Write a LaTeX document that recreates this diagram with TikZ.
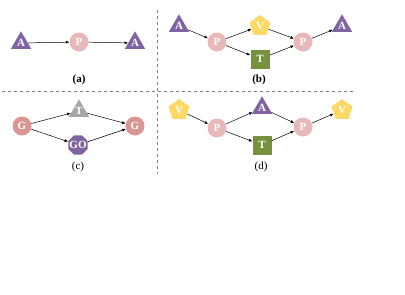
\documentclass[tikz,border=0pt]{standalone}
\usepackage{fontspec}
\setmainfont{Liberation Serif}
\usepackage{tikz}
\usetikzlibrary{arrows.meta, positioning, shapes.geometric}
\definecolor{apurple}{RGB}{128,100,162}
\definecolor{ppink}{RGB}{230,184,183}
\definecolor{vyellow}{RGB}{255,217,102}
\definecolor{tgreen}{RGB}{118,146,60}
\definecolor{gsalmon}{RGB}{217,150,148}
\definecolor{tgrey}{RGB}{166,166,166}
\definecolor{sepline}{RGB}{128,128,128}

\begin{document}
\begin{tikzpicture}[x=1pt, y=-1pt, >={Latex[length=3.5pt,width=3pt]},
  lbl/.style={text=white, font=\bfseries\fontsize{11}{11}\selectfont, inner sep=0pt},
  tri/.style={lbl, regular polygon, regular polygon sides=3, minimum size=23.5pt, fill=apurple},
  pent/.style={lbl, regular polygon, regular polygon sides=5, minimum size=22pt, fill=vyellow},
  octa/.style={lbl, regular polygon, regular polygon sides=8, minimum size=21pt, inner sep=-3pt, fill=apurple},
  circ/.style={lbl, circle, minimum size=19pt, fill=ppink},
  sq/.style={lbl, rectangle, minimum size=19pt, fill=tgreen},
  edge/.style={->, line width=0.5pt},
  capnode/.style={font=\fontsize{11}{11}\selectfont}]
  \useasboundingbox (0,0) rectangle (405,295);
  % Separators
  \draw[sepline, dashed, line width=0.6pt] (157,10) -- (157,174);
  \draw[sepline, dashed, line width=0.6pt] (2,91) -- (354,91);
  % (a)
  \node[tri] (a1) at (21,43) {A};
  \node[circ] (ap) at (79,42) {P};
  \node[tri] (a2) at (135,43) {A};
  \draw[edge] (a1) -- (ap);
  \draw[edge] (ap) -- (a2);
  \node[capnode] (capa) at (79,80) {\textbf{(a)}};
  % (b)
  \node[tri] (b1) at (179,26) {A};
  \node[circ] (bp1) at (217,42) {P};
  \node[pent] (bv) at (260,26) {V};
  \node[sq] (bt) at (260,59) {T};
  \node[circ] (bp2) at (303,42) {P};
  \node[tri] (b2) at (342,26) {A};
  \foreach \s/\t in {b1/bp1, bp1/bv, bp1/bt, bv/bp2, bt/bp2, bp2/b2}
    \draw[edge] (\s) -- (\t);
  \node[capnode] (capb) at (259,80) {\textbf{(b)}};
  % (c)
  \node[circ, fill=gsalmon] (cg1) at (22,126) {G};
  \node[tri, fill=tgrey] (ct) at (79,111) {T};
  \node[octa] (cgo) at (78,145) {GO};
  \node[circ, fill=gsalmon] (cg2) at (135,126) {G};
  \foreach \s/\t in {cg1/ct, cg1/cgo, ct/cg2, cgo/cg2}
    \draw[edge] (\s) -- (\t);
  \node[capnode] (capc) at (78,167) {(c)};
  % (d)
  \node[pent] (dv1) at (179,110) {V};
  \node[circ] (dp1) at (217,128) {P};
  \node[tri] (da) at (262,108) {A};
  \node[sq] (dt) at (262,145) {T};
  \node[circ] (dp2) at (303,127) {P};
  \node[pent] (dv2) at (342,110) {V};
  \foreach \s/\t in {dv1/dp1, dp1/da, dp1/dt, da/dp2, dt/dp2, dp2/dv2}
    \draw[edge] (\s) -- (\t);
  \node[capnode] (capd) at (261,167) {(d)};
\end{tikzpicture}
\end{document}
